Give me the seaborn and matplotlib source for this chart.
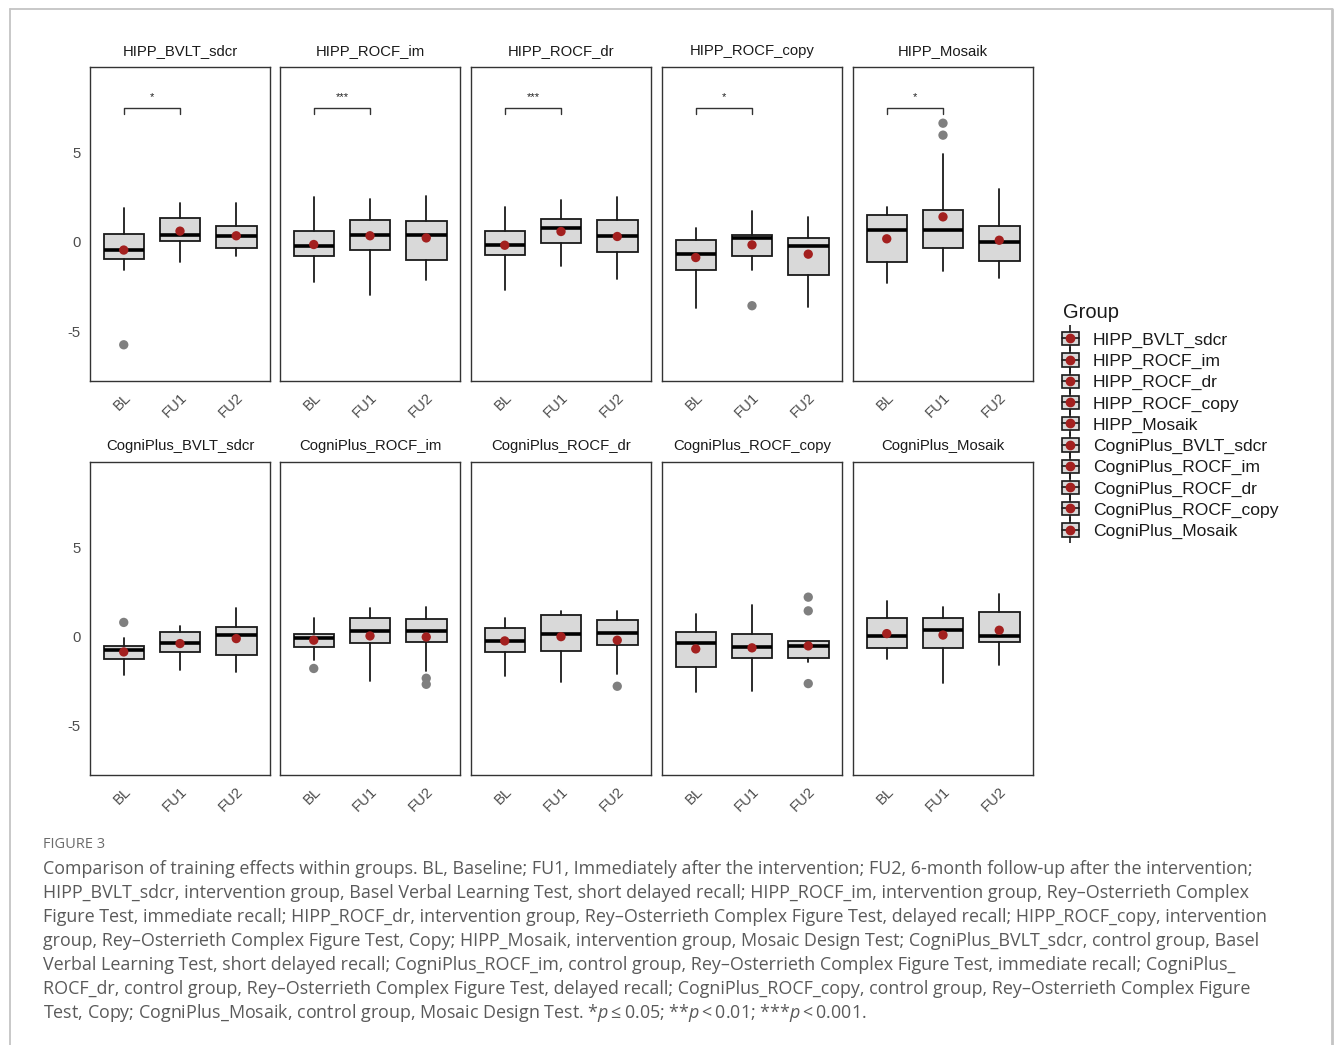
import matplotlib
matplotlib.use("Agg")
import matplotlib.pyplot as plt
from matplotlib.lines import Line2D
from matplotlib.patches import Patch
import numpy as np
import seaborn as sns

panels = ["HIPP_BVLT_sdcr", "HIPP_ROCF_im", "HIPP_ROCF_dr", "HIPP_ROCF_copy", "HIPP_Mosaik",
          "CogniPlus_BVLT_sdcr", "CogniPlus_ROCF_im", "CogniPlus_ROCF_dr", "CogniPlus_ROCF_copy",
          "CogniPlus_Mosaik"]
timepoints = ["BL", "FU1", "FU2"]

# box summaries (BL, FU1, FU2 per panel)
whis_hi = [[1.92, 2.16, 2.16], [2.53, 2.38, 2.57], [1.96, 2.35, 2.53], [0.75, 1.71, 1.41],
           [1.97, 4.95, 2.94], [-0.07, 0.58, 1.58], [1.04, 1.58, 1.64], [1.02, 1.43, 1.40],
           [1.28, 1.77, -0.28], [1.99, 1.66, 2.35]]
q3 = [[0.43, 1.32, 0.87], [0.58, 1.21, 1.17], [0.58, 1.27, 1.23], [0.11, 0.39, 0.22],
      [1.49, 1.81, 0.91], [-0.56, 0.26, 0.54], [0.13, 1.02, 0.97], [0.45, 1.17, 0.89],
      [0.24, 0.13, -0.28], [1.02, 1.02, 1.36]]
medians = [[-0.48, 0.41, 0.34], [-0.24, 0.41, 0.39], [-0.15, 0.75, 0.32], [-0.69, 0.20, -0.26],
           [0.65, 0.65, -0.02], [-0.76, -0.35, 0.07], [-0.11, 0.30, 0.32], [-0.28, 0.15, 0.21],
           [-0.35, -0.63, -0.56], [0.02, 0.37, 0.02]]
q1 = [[-0.97, 0.04, -0.37], [-0.82, -0.48, -0.99], [-0.74, -0.09, -0.56], [-1.56, -0.82, -1.88],
      [-1.15, -0.35, -1.08], [-1.30, -0.91, -1.06], [-0.58, -0.37, -0.34], [-0.89, -0.80, -0.48],
      [-1.73, -1.21, -1.21], [-0.65, -0.65, -0.32]]
whis_lo = [[-1.60, -1.15, -0.78], [-2.27, -2.98, -2.16], [-2.68, -1.34, -2.07], [-3.69, -1.56, -3.65],
           [-2.33, -1.64, -2.00], [-2.16, -1.88, -2.03], [-1.32, -2.50, -1.94], [-2.25, -2.59, -2.12],
           [-3.15, -3.07, -1.42], [-1.28, -2.63, -1.64]]
means = [[-0.46, 0.60, 0.34], [-0.15, 0.34, 0.22], [-0.19, 0.58, 0.30], [-0.88, -0.17, -0.69],
         [0.17, 1.40, 0.09], [-0.88, -0.41, -0.13], [-0.22, 0.02, -0.04], [-0.26, -0.02, -0.22],
         [-0.71, -0.65, -0.54], [0.15, 0.07, 0.34]]
outliers = [[[-5.77], [], []], [[], [], []], [[], [], []], [[], [-3.58], []],
            [[], [6.65, 5.98], []], [[0.78], [], []], [[-1.81], [], [-2.36, -2.70]],
            [[], [], [-2.81]], [[], [], [2.20, 1.43, -2.66]], [[], [], []]]
signif = ["*", "***", "***", "*", "*", "", "", "", "", ""]
bracket_y = 7.5

caption_lines = [
    "Comparison of training effects within groups. BL, Baseline; FU1, Immediately after the intervention; FU2, 6-month follow-up after the intervention;",
    "HIPP_BVLT_sdcr, intervention group, Basel Verbal Learning Test, short delayed recall; HIPP_ROCF_im, intervention group, Rey\u2013Osterrieth Complex",
    "Figure Test, immediate recall; HIPP_ROCF_dr, intervention group, Rey\u2013Osterrieth Complex Figure Test, delayed recall; HIPP_ROCF_copy, intervention",
    "group, Rey\u2013Osterrieth Complex Figure Test, Copy; HIPP_Mosaik, intervention group, Mosaic Design Test; CogniPlus_BVLT_sdcr, control group, Basel",
    "Verbal Learning Test, short delayed recall; CogniPlus_ROCF_im, control group, Rey\u2013Osterrieth Complex Figure Test, immediate recall; CogniPlus_",
    "ROCF_dr, control group, Rey\u2013Osterrieth Complex Figure Test, delayed recall; CogniPlus_ROCF_copy, control group, Rey\u2013Osterrieth Complex Figure",
    "Test, Copy; CogniPlus_Mosaik, control group, Mosaic Design Test. *$\\mathit{p}$\u2009\u2264\u20090.05; **$\\mathit{p}$\u2009<\u20090.01; ***$\\mathit{p}$\u2009<\u20090.001.",
]

sns.set_theme(style="white")
plt.rcParams['font.family'] = ['Liberation Sans', 'DejaVu Sans']
plt.rcParams['mathtext.fontset'] = 'custom'
plt.rcParams['mathtext.it'] = 'Open Sans:italic'
plt.rcParams['mathtext.rm'] = 'Open Sans'

W, H = 1335, 1045
fig = plt.figure(figsize=(W / 100, H / 100), dpi=100)

box_face = "#d9d9d9"
mean_col = "#a3201f"
out_col = "#7f7f7f"
tick_col = "#4d4d4d"
lefts = [90, 280, 471, 662, 853]
rows = [(67, 381), (462, 775)]

for i, name in enumerate(panels):
    r, c = divmod(i, 5)
    top, bot = rows[r]
    ax = fig.add_axes([lefts[c] / W, 1 - bot / H, 180 / W, (bot - top) / H])
    stats = []
    for j, tp in enumerate(timepoints):
        stats.append(dict(label=tp, whislo=whis_lo[i][j], q1=q1[i][j], med=medians[i][j],
                          q3=q3[i][j], whishi=whis_hi[i][j], fliers=[]))
    ax.bxp(stats, positions=[0, 1, 2], widths=0.72, patch_artist=True, showfliers=False,
           showcaps=False,
           boxprops=dict(facecolor=box_face, edgecolor="#1a1a1a", linewidth=1.3),
           medianprops=dict(color="black", linewidth=2.6),
           whiskerprops=dict(color="#1a1a1a", linewidth=1.3))
    # outliers
    ox, oy = [], []
    for j in range(3):
        ox += [j] * len(outliers[i][j])
        oy += outliers[i][j]
    if ox:
        sns.scatterplot(x=ox, y=oy, ax=ax, color=out_col, s=45, edgecolor="none", zorder=4)
    # means
    sns.scatterplot(x=[0, 1, 2], y=means[i], ax=ax, color=mean_col, s=45, edgecolor="none", zorder=5)
    # significance bracket
    if signif[i]:
        ax.plot([0, 0, 1, 1], [bracket_y - 0.35, bracket_y, bracket_y, bracket_y - 0.35],
                color="#333333", lw=1.0)
        ax.text(0.5, bracket_y + 0.35, signif[i], ha="center", va="bottom", fontsize=8,
                color="#222222")
    ax.set_xlim(-0.6, 2.6)
    ax.set_ylim(-7.8, 9.8)
    ax.set_yticks([-5, 0, 5])
    ax.set_xticks([0, 1, 2])
    ax.set_xticklabels(timepoints, rotation=45, ha="right", va="top", rotation_mode="anchor",
                       fontsize=10.7, color=tick_col)
    if c == 0:
        ax.set_yticklabels(["-5", "0", "5"], fontsize=10.7, color=tick_col)
    else:
        ax.set_yticklabels([])
    ax.tick_params(axis="both", length=0, pad=7)
    ax.tick_params(axis="x", pad=7)
    for s in ax.spines.values():
        s.set_visible(True)
        s.set_color("#333333")
        s.set_linewidth(1.0)
    ax.set_title(name, fontsize=10.7, color="#1a1a1a", pad=8.5)
    ax.set_xlabel("")
    ax.set_ylabel("")

# legend
handles = []
for name in panels:
    handles.append((Line2D([], [], marker="|", markersize=19, color="#1a1a1a", linestyle="none",
                           markeredgewidth=1.2),
                    Patch(facecolor=box_face, edgecolor="#1a1a1a", linewidth=1.2),
                    Line2D([], [], color="#1a1a1a", lw=1.2),
                    Line2D([], [], marker="o", color=mean_col, linestyle="none", markersize=6)))
fig.text(1063 / W, 1 - 312 / H, "Group", fontsize=14.5, color="#1a1a1a", va="center", ha="left")
leg = fig.legend(handles, panels, loc="upper left", bbox_to_anchor=(1062 / W, 1 - 332 / H),
                 frameon=False, fontsize=12.6, handlelength=0.95, handleheight=0.8,
                 handletextpad=0.8, labelspacing=0.305, borderpad=0, borderaxespad=0)
for t in leg.get_texts():
    t.set_color("#1a1a1a")

# caption
fig.text(43 / W, 1 - 845 / H, "FIGURE 3", fontsize=10.5, color="#6b6b6b", va="center",
         family=["Open Sans", "DejaVu Sans"])
for k, line in enumerate(caption_lines):
    fig.text(43 / W, 1 - (869 + 24 * k) / H, line, fontsize=12.9, color="#5a5a5a", va="center",
             family=["Open Sans", "DejaVu Sans"])

# page frame
frame_col = "#c4c4c4"
fig.add_artist(Line2D([10 / W, 1332 / W], [1 - 9 / H, 1 - 9 / H], color=frame_col, lw=1.3,
                      transform=fig.transFigure))
fig.add_artist(Line2D([10 / W, 10 / W], [1 - 9 / H, 0], color=frame_col, lw=1.3,
                      transform=fig.transFigure))
fig.add_artist(Line2D([1332 / W, 1332 / W], [1 - 9 / H, 0], color=frame_col, lw=2.0,
                      transform=fig.transFigure))

fig.savefig("out.png", dpi=100)
